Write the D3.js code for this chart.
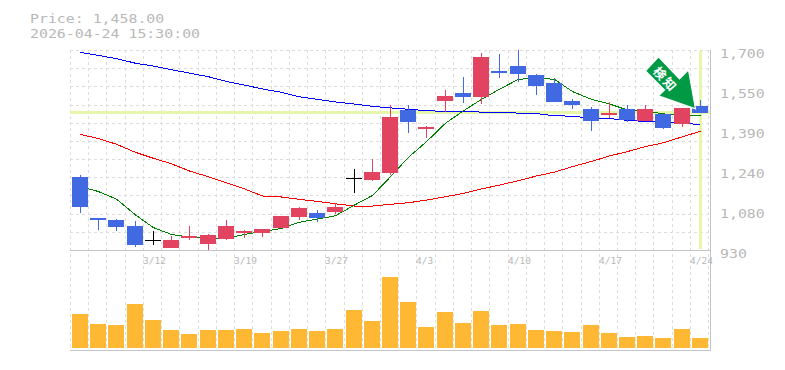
<!DOCTYPE html>
<html><head><meta charset="utf-8">
<script src="https://cdn.jsdelivr.net/npm/d3@7/dist/d3.min.js"></script>
<style>html,body{margin:0;padding:0;background:#fff}svg{display:block}text{font-family:"DejaVu Sans Mono",monospace;fill:#b8b8b8}</style>
</head><body><svg id="c" width="785" height="370"></svg>
<script>
const dates=["3/6","3/9","3/10","3/11","3/12","3/13","3/16","3/17","3/18","3/19","3/23","3/24","3/25","3/26","3/27","3/30","3/31","4/1","4/2","4/3","4/6","4/7","4/8","4/9","4/10","4/13","4/14","4/15","4/16","4/17","4/20","4/21","4/22","4/23","4/24"];
const open=[1211,1053,1046,1022,967,938,976,953,972,996,996,1015,1057,1072,1076,1207,1200,1226,1469,1396,1504,1534,1519,1619,1638,1604,1573,1504,1473,1450,1473,1427,1454,1415,1484];
const high=[1219,1053,1049,1042,1003,984,1022,992,1046,1007,1011,1061,1096,1084,1111,1242,1280,1488,1488,1407,1546,1596,1688,1685,1700,1608,1592,1511,1481,1500,1488,1488,1454,1477,1508];
const low=[1072,1007,1003,942,949,938,969,930,969,976,980,1015,1046,1038,1069,1149,1196,1219,1380,1361,1461,1496,1492,1592,1577,1527,1500,1473,1388,1438,1423,1427,1396,1404,1458];
const close=[1097,1046,1019,949,967,969,984,988,1022,1003,1011,1061,1092,1053,1096,1207,1230,1442,1423,1403,1523,1519,1673,1611,1608,1561,1500,1488,1427,1457,1431,1473,1400,1477,1458];
const maShort=[1174,1155,1126,1065,1016,990,979,974,976,990,1001,1013,1037,1049,1062,1103,1140,1212,1287,1347,1418,1466,1510,1549,1587,1592,1587,1540,1510,1492,1469,1465,1454,1447,1447];
const maMid=[1375,1359,1337,1306,1283,1262,1234,1212,1189,1165,1138,1134,1125,1117,1108,1099,1099,1106,1112,1122,1135,1148,1165,1180,1197,1215,1230,1251,1271,1292,1309,1328,1343,1366,1387];
const maLong=[1691,1679,1667,1649,1638,1624,1611,1597,1579,1565,1550,1537,1520,1510,1500,1492,1483,1477,1472,1466,1464,1463,1461,1460,1457,1455,1447,1445,1437,1436,1429,1425,1424,1418,1413];
const volume=[34,24,23,44,28,18,14,18,18,19,15,17,19,17,19,38,27,71,46,21,36,25,37,23,24,18,17,16,23,15,11,12,10,19,10];
const priceTicks=[1700,1546,1392,1238,1084,930];
const priceLabels=["1,700","1,550","1,390","1,240","1,080","930"];
const dateTicks=["3/12","3/19","3/27","4/3","4/10","4/17","4/24"];
const lastPrice=1458;
const titleLines=["Price: 1,458.00","2026-04-24 15:30:00"];
const arrowLabel="検知";

const W=638.2,L=70;
const svg=d3.select("#c");
const x=d3.scaleBand().domain(d3.range(dates.length)).range([L,L+W]);
const y=d3.scaleLinear().domain([930,1700]).range([250,50]);
const v=d3.scaleLinear().domain([0,100]).range([348,248]);
const px=n=>Math.round(n);
const cx=i=>px(x(i))+10.5;

// grid
const gridCol="#ddd";
const g=svg.append("g").attr("shape-rendering","crispEdges");
const vs=d3.range(dates.length+1).map(i=>L+i*x.step());
g.selectAll(".gv").data(vs).join("line").attr("x1",d=>px(d)+.5).attr("x2",d=>px(d)+.5).attr("y1",50).attr("y2",350).attr("stroke",gridCol).attr("stroke-dasharray","3,3");
const hs=d3.range(11).map(i=>50+i*200/11);
g.selectAll(".gh").data(hs).join("line").attr("x1",L).attr("x2",710).attr("y1",d=>px(d)+.5).attr("y2",d=>px(d)+.5).attr("stroke",gridCol).attr("stroke-dasharray","3,3");

// last price highlights
g.append("line").attr("x1",L).attr("x2",710).attr("y1",y(lastPrice)).attr("y2",y(lastPrice)).attr("stroke","#e6f7ab").attr("stroke-width",3);
g.append("line").attr("x1",cx(34)).attr("x2",cx(34)).attr("y1",51).attr("y2",249).attr("stroke","#e6f7ab").attr("stroke-width",3);

// frame
const frame="#c4c4c4";
[[L,250,710,250],[L,350,710,350],[710,50,710,350]].forEach(a=>g.append("line").attr("x1",a[0]).attr("y1",a[1]+.5).attr("x2",a[2]+.5).attr("y2",a[3]+.5).attr("stroke",frame).attr("transform",a[0]===a[2]?"translate(.5,0)":null));

// moving averages
const line=d3.line().x((d,i)=>cx(i)).y(d=>y(d));
[[maLong,"#0000ff"],[maMid,"#ff0000"],[maShort,"#008000"]].forEach(([s,c])=>{
 svg.append("path").attr("d",line(s)).attr("fill","none").attr("stroke",c).attr("stroke-width",1).attr("shape-rendering","crispEdges");
});

// candles
const colour=i=>open[i]===close[i]?"#000":(close[i]>open[i]?"#e24361":"#4169e1");
const cg=svg.append("g").attr("shape-rendering","crispEdges");
const idx=d3.range(dates.length);
cg.selectAll(".w").data(idx).join("line").attr("x1",cx).attr("x2",cx).attr("y1",i=>px(y(high[i]))).attr("y2",i=>px(y(low[i]))).attr("stroke",colour);
cg.selectAll(".b").data(idx).join("rect").attr("x",i=>px(x(i))+2).attr("width",16)
 .attr("y",i=>px(y(Math.max(open[i],close[i])))).attr("height",i=>Math.max(1,px(y(Math.min(open[i],close[i])))-px(y(Math.max(open[i],close[i])))))
 .attr("fill",colour);

// volume
cg.selectAll(".v").data(idx).join("rect").attr("x",i=>px(x(i))+2).attr("width",16).attr("y",i=>v(volume[i])).attr("height",i=>348-v(volume[i])).attr("fill","#ffb833");

// axes
const charW=8.95;
const yAxis=d3.axisRight(y).tickValues(priceTicks).tickSize(0).tickPadding(0).tickFormat((d,i)=>priceLabels[i]);
const ya=svg.append("g").attr("transform","translate(720,3)").call(yAxis);
ya.select(".domain").remove();
ya.selectAll("text").style("font-size","12.5px").attr("textLength",(d,i)=>priceLabels[i].length*charW).attr("lengthAdjust","spacingAndGlyphs");

const xAxis=d3.axisBottom(x).tickValues(dateTicks.map(d=>dates.indexOf(d))).tickSize(0).tickPadding(0).tickFormat(i=>dates[i]);
const xa=svg.append("g").attr("transform","translate(0,257)").call(xAxis);
xa.select(".domain").remove();
xa.selectAll(".tick").attr("transform",i=>`translate(${px(x(i))},0)`);
xa.selectAll("text").attr("text-anchor","start").attr("x",0).style("font-size","9.5px");

// title
svg.selectAll(".t").data(titleLines).join("text").attr("x",30).attr("y",(d,i)=>23+i*15).style("font-size","12.5px")
 .attr("textLength",d=>d.length*charW).attr("lengthAdjust","spacingAndGlyphs").text(d=>d);

// signal arrow, anchored just right of the candle before the last one
const tip=[cx(33)+13,y(close[33])];
const shape=[[-37,-51],[-50,-37],[-31,-18],[-37,-12],[0,1],[-7,-38],[-16,-29]];
const ag=svg.append("g").attr("transform",`translate(${tip})`);
ag.append("path").attr("d",d3.line()(shape)+"Z").attr("fill","#009944").attr("stroke","#fff").attr("stroke-width",1.2);
ag.append("text").attr("transform","translate(-29.5,-29) rotate(48)").attr("text-anchor","middle").attr("dominant-baseline","central")
 .style("font-family","'Noto Sans CJK JP'").style("font-size","12.5px").style("letter-spacing","2px").style("font-weight","700").style("fill","#fff").text(arrowLabel);
</script></body></html>
